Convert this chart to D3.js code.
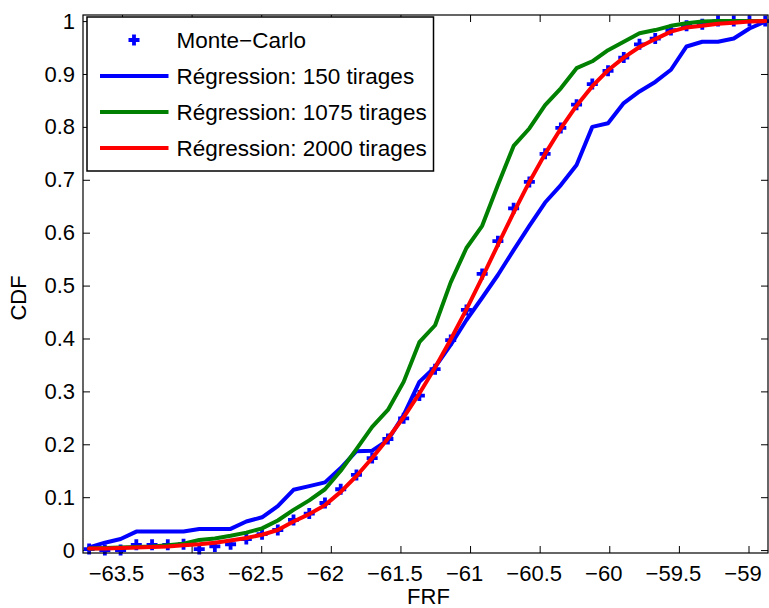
<!DOCTYPE html>
<html>
<head>
<meta charset="utf-8">
<script src="https://cdn.jsdelivr.net/npm/d3@7"></script>
<style>
  html, body { margin: 0; padding: 0; background: #fff; }
  svg { display: block; }
  text { font-family: "Liberation Sans", Arial, Helvetica, sans-serif; fill: #000; }
</style>
</head>
<body>
<svg id="chart" width="769" height="608"></svg>
<script>
// ---------- DATA ----------
const frf = [-63.736, -63.623, -63.510, -63.397, -63.284, -63.171, -63.058, -62.945, -62.833, -62.720,
             -62.607, -62.494, -62.381, -62.268, -62.155, -62.042, -61.929, -61.816, -61.703, -61.590,
             -61.477, -61.364, -61.251, -61.139, -61.026, -60.913, -60.800, -60.687, -60.574, -60.461,
             -60.348, -60.235, -60.122, -60.009, -59.896, -59.783, -59.670, -59.557, -59.445, -59.332,
             -59.219, -59.106, -58.993, -58.880];

const monteCarlo = [0.002, 0.000, 0.000, 0.010, 0.010, 0.010, 0.011, 0.002, 0.007, 0.011,
                    0.021, 0.030, 0.038, 0.057, 0.069, 0.089, 0.115, 0.142, 0.174, 0.210,
                    0.249, 0.292, 0.342, 0.397, 0.454, 0.522, 0.584, 0.646, 0.696, 0.749,
                    0.798, 0.842, 0.881, 0.906, 0.931, 0.956, 0.967, 0.983, 0.991, 0.994,
                    1.000, 1.000, 1.000, 1.000];

const reg150 = [0.005, 0.014, 0.021, 0.035, 0.035, 0.035, 0.035, 0.040, 0.040, 0.040,
                0.054, 0.062, 0.083, 0.114, 0.121, 0.128, 0.155, 0.187, 0.188, 0.208,
                0.255, 0.318, 0.346, 0.388, 0.435, 0.477, 0.520, 0.567, 0.613, 0.657,
                0.690, 0.728, 0.800, 0.807, 0.845, 0.867, 0.885, 0.908, 0.952, 0.961,
                0.961, 0.967, 0.986, 0.999];

const reg1075 = [0.003, 0.004, 0.005, 0.006, 0.007, 0.009, 0.012, 0.019, 0.022, 0.027,
                 0.033, 0.041, 0.056, 0.076, 0.094, 0.115, 0.150, 0.191, 0.233, 0.265,
                 0.318, 0.393, 0.425, 0.506, 0.571, 0.613, 0.690, 0.764, 0.797, 0.841,
                 0.873, 0.911, 0.924, 0.945, 0.961, 0.977, 0.983, 0.991, 0.996, 0.999,
                 1.000, 1.000, 1.000, 1.000];

const reg2000 = [0.003, 0.003, 0.004, 0.005, 0.006, 0.007, 0.009, 0.011, 0.014, 0.018,
                 0.023, 0.029, 0.038, 0.054, 0.068, 0.085, 0.110, 0.140, 0.174, 0.211,
                 0.251, 0.296, 0.345, 0.398, 0.455, 0.515, 0.577, 0.638, 0.696, 0.749,
                 0.797, 0.840, 0.877, 0.907, 0.931, 0.951, 0.966, 0.980, 0.988, 0.991,
                 0.995, 0.997, 0.999, 1.000];

const xTicks = [-63.5, -63, -62.5, -62, -61.5, -61, -60.5, -60, -59.5, -59];
const yTicks = [0, 0.1, 0.2, 0.3, 0.4, 0.5, 0.6, 0.7, 0.8, 0.9, 1];

const seriesNames = ["Monte\u2212Carlo", "R\u00e9gression: 150 tirages", "R\u00e9gression: 1075 tirages", "R\u00e9gression: 2000 tirages"];
const seriesColors = ["#0000ff", "#0000ff", "#008000", "#ff0000"];

const xLabel = "FRF";
const yLabel = "CDF";

// ---------- LAYOUT ----------
const L = 83, R = 768, T = 15, B = 553;
const FS = 22;
const svg = d3.select("#chart");

const x = d3.scaleLinear().domain([-63.78, -58.86]).range([L, R]);
const y = d3.scaleLinear().domain([-0.0055, 1.0115]).range([B, T]);

const fmt = v => {
  const s = (Math.round(v * 10) / 10).toString();
  return s.replace("-", "\u2212");
};

// ticks (inward, on all four sides)
const tickLen = 7;
const g = svg.append("g");
const xAxisB = d3.axisBottom(x).tickValues(xTicks).tickSizeInner(-tickLen).tickSizeOuter(0).tickFormat(fmt).tickPadding(12);
const gxb = g.append("g").attr("transform", `translate(0,${B})`).call(xAxisB);
gxb.select(".domain").remove();
gxb.selectAll("text").attr("font-size", FS).attr("dx", -6)
  .style("font-family", '"Liberation Sans", Arial, Helvetica, sans-serif');

const xAxisT = d3.axisTop(x).tickValues(xTicks).tickSizeInner(-tickLen).tickSizeOuter(0).tickFormat("");
const gxt = g.append("g").attr("transform", `translate(0,${T})`).call(xAxisT);
gxt.select(".domain").remove();

const yAxisL = d3.axisLeft(y).tickValues(yTicks).tickSizeInner(-tickLen).tickSizeOuter(0)
  .tickFormat(v => d3.format("")(Math.round(v * 10) / 10)).tickPadding(8);
const gyl = g.append("g").attr("transform", `translate(${L},0)`).call(yAxisL);
gyl.select(".domain").remove();
gyl.selectAll("text").attr("font-size", FS)
  .style("font-family", '"Liberation Sans", Arial, Helvetica, sans-serif');

const yAxisR = d3.axisRight(y).tickValues(yTicks).tickSizeInner(-tickLen).tickSizeOuter(0).tickFormat("");
const gyr = g.append("g").attr("transform", `translate(${R},0)`).call(yAxisR);
gyr.select(".domain").remove();
g.selectAll(".tick line").attr("stroke", "#000").attr("stroke-width", 1);

// clip (lines only; markers are not clipped)
svg.append("clipPath").attr("id", "clip").append("rect")
  .attr("x", L).attr("y", T - 3).attr("width", R - L).attr("height", B - T + 6);

// Monte-Carlo markers
const plusPath = (cx, cy, h) => `M${cx - h},${cy}H${cx + h}M${cx},${cy - h}V${cy + h}`;
svg.append("g").selectAll("path").data(frf).join("path")
  .attr("d", (d, i) => plusPath(x(d), y(monteCarlo[i]), 5.5))
  .attr("stroke", seriesColors[0]).attr("stroke-width", 3.8).attr("fill", "none");

const plot = svg.append("g").attr("clip-path", "url(#clip)");
const line = d3.line().x(d => x(d[0])).y(d => y(d[1]));
[reg150, reg1075, reg2000].forEach((vals, k) => {
  plot.append("path")
    .datum(frf.map((f, i) => [f, vals[i]]))
    .attr("d", line)
    .attr("fill", "none")
    .attr("stroke", seriesColors[k + 1])
    .attr("stroke-width", 4)
    .attr("stroke-linejoin", "round")
    .attr("stroke-linecap", "round");
});

// frame
svg.append("rect").attr("x", L).attr("y", T).attr("width", R - L).attr("height", B - T)
  .attr("fill", "none").attr("stroke", "#000").attr("stroke-width", 1.2);

// axis labels
svg.append("text").attr("x", (L + R) / 2 + 3).attr("y", 604).attr("text-anchor", "middle")
  .attr("font-size", FS).text(xLabel);
svg.append("text").attr("transform", `translate(26,${(T + B) / 2 + 14}) rotate(-90)`)
  .attr("text-anchor", "middle").attr("font-size", FS).text(yLabel);

// legend
const lg = svg.append("g");
lg.append("rect").attr("x", 87).attr("y", 17).attr("width", 346.5).attr("height", 154)
  .attr("fill", "#fff").attr("stroke", "#000").attr("stroke-width", 1.5);
const rowsY = [40, 76, 112, 148];
seriesNames.forEach((name, i) => {
  const cy = rowsY[i];
  if (i === 0) {
    lg.append("path").attr("d", plusPath(134, cy, 5.5))
      .attr("stroke", seriesColors[0]).attr("stroke-width", 3.8).attr("fill", "none");
  } else {
    lg.append("line").attr("x1", 100).attr("x2", 168.5).attr("y1", cy).attr("y2", cy)
      .attr("stroke", seriesColors[i]).attr("stroke-width", 4);
  }
  lg.append("text").attr("x", 176.5).attr("y", cy + 7.5).attr("font-size", FS + 0.5).text(name);
});
</script>
</body>
</html>
